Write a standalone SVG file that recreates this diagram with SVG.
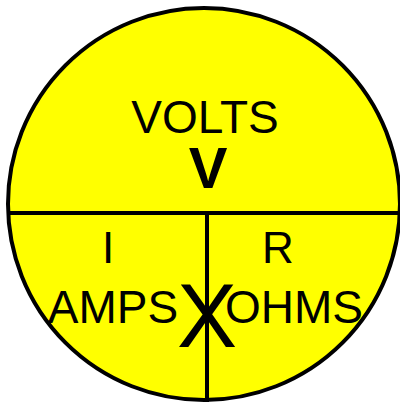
<svg xmlns="http://www.w3.org/2000/svg" width="400" height="405" viewBox="0 0 400 405">
<style>
.t{font-family:"Liberation Sans",Arial,sans-serif;fill:#000;text-anchor:middle}
.ln{stroke:#000;stroke-width:4;fill:none}
</style>
<rect width="400" height="405" fill="#fff"/>
<g id="circle">
<circle cx="204" cy="204" r="196" fill="#ffff00" stroke="#000" stroke-width="4"/>
</g>
<g id="connectors">
<line class="ln" x1="8" y1="213" x2="400" y2="213"/>
<line class="ln" x1="207" y1="213" x2="207" y2="402"/>
</g>
<g id="volts">
<text class="t" x="205" y="133" font-size="46">VOLTS</text>
<text class="t" x="208" y="188" font-size="58" font-weight="bold">V</text>
</g>
<g id="amps">
<text class="t" x="108" y="263" font-size="44">I</text>
<text class="t" x="113" y="323" font-size="46">AMPS</text>
</g>
<g id="ohms">
<text class="t" x="278" y="263" font-size="44">R</text>
<text class="t" x="294" y="323" font-size="46">OHMS</text>
</g>
<g id="times">
<text class="t" x="207" y="347" font-size="90">X</text>
</g>
</svg>
